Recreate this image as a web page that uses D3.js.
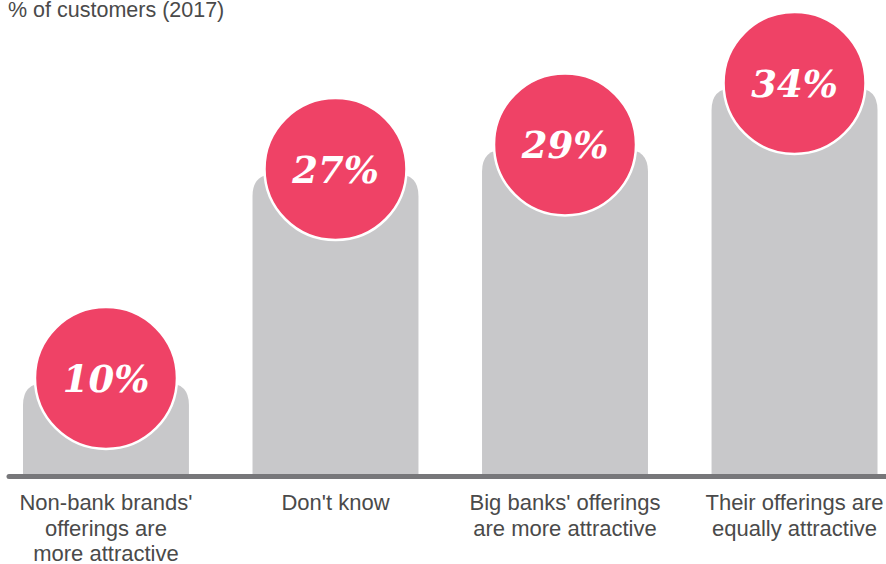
<!DOCTYPE html>
<html>
<head>
<meta charset="utf-8">
<script src="https://cdn.jsdelivr.net/npm/d3@7"></script>
<style>
  html, body { margin: 0; padding: 0; background: #fff; }
  svg { display: block; }
</style>
</head>
<body>
<svg id="chart" width="886" height="564"></svg>
<script>
// Share of customers by opinion on offerings (2017)
const categories = [
  "Non-bank brands' offerings are more attractive",
  "Don't know",
  "Big banks' offerings are more attractive",
  "Their offerings are equally attractive"
];
const labelLines = [
  ["Non-bank brands'", "offerings are", "more attractive"],
  ["Don't know"],
  ["Big banks' offerings", "are more attractive"],
  ["Their offerings are", "equally attractive"]
];
const values = [10, 27, 29, 34];
const title = "% of customers (2017)";

const svg = d3.select("#chart");
const baseY = 474;

const x = d3.scaleBand()
  .domain(categories)
  .range([23, 877.5])
  .paddingInner(0.277)
  .paddingOuter(0);

const y = d3.scaleLinear()
  .domain([2.6, 34])
  .range([baseY, 88]);

const r = 22;      // bar corner radius
const bubbleR = 71;

// Bar with rounded top corners
function barPath(x0, w, top, bottom) {
  return `M${x0},${bottom}` +
    `V${top + r}` +
    `Q${x0},${top} ${x0 + r},${top}` +
    `H${x0 + w - r}` +
    `Q${x0 + w},${top} ${x0 + w},${top + r}` +
    `V${bottom}Z`;
}

svg.append("g").selectAll("path")
  .data(values)
  .join("path")
  .attr("d", (d, i) => barPath(x(categories[i]), x.bandwidth(), y(d), baseY + 1))
  .attr("fill", "#c8c8ca");

// Axis line
svg.append("line")
  .attr("x1", 9).attr("x2", 890)
  .attr("y1", baseY + 2.5).attr("y2", baseY + 2.5)
  .attr("stroke", "#77777a")
  .attr("stroke-width", 5)
  .attr("stroke-linecap", "round");

// Value bubbles
const bubbles = svg.append("g").selectAll("g")
  .data(values)
  .join("g")
  .attr("transform", (d, i) => `translate(${x(categories[i]) + x.bandwidth() / 2},${y(d) - 5})`);

bubbles.append("circle")
  .attr("r", bubbleR)
  .attr("fill", "#ef4266")
  .attr("stroke", "#fff")
  .attr("stroke-width", 2.5);

bubbles.append("text")
  .attr("text-anchor", "middle")
  .attr("dy", 14)
  .attr("fill", "#fff")
  .style("font-family", "'DejaVu Serif', serif")
  .style("font-style", "italic")
  .style("font-weight", "bold")
  .style("font-size", "37px")
  .text(d => d + "%");

// Category labels
const labels = svg.append("g").selectAll("text")
  .data(labelLines)
  .join("text")
  .attr("x", (d, i) => x(categories[i]) + x.bandwidth() / 2)
  .attr("y", 510)
  .attr("text-anchor", "middle")
  .attr("fill", "#4a4a4a")
  .style("font-family", "'Liberation Sans', Arial, sans-serif")
  .style("font-size", "22px");

labels.selectAll("tspan")
  .data(d => d)
  .join("tspan")
  .attr("x", function () { return d3.select(this.parentNode).attr("x"); })
  .attr("dy", (d, j) => j === 0 ? 0 : 25.5)
  .text(d => d);

// Title
svg.append("text")
  .attr("x", 8)
  .attr("y", 17)
  .attr("fill", "#4a4a4a")
  .style("font-family", "'Liberation Sans', Arial, sans-serif")
  .style("font-size", "21.5px")
  .text(title);
</script>
</body>
</html>
